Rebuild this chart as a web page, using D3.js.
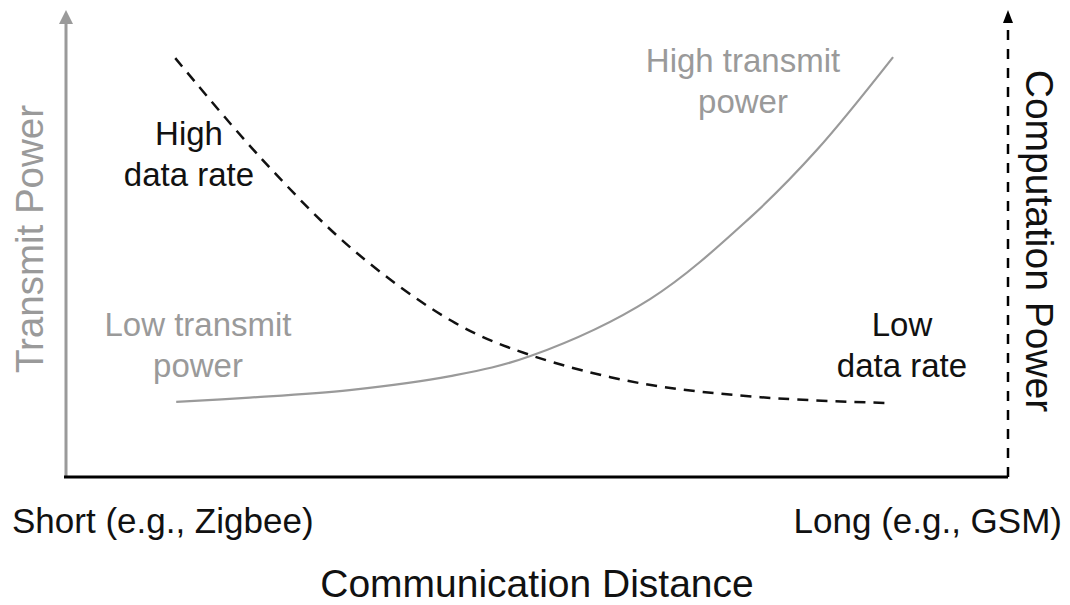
<!DOCTYPE html>
<html>
<head>
<meta charset="utf-8">
<script src="https://cdn.jsdelivr.net/npm/d3@7"></script>
<style>
  body { margin: 0; background: #fff; }
  text { font-family: "Liberation Sans", Arial, sans-serif; }
</style>
</head>
<body>
<div id="chart"></div>
<script>
// Transmit power (gray solid) vs distance, 0..100 scale on both axes
const transmitX = [11.7, 19.5, 30.1, 40.8, 49.3, 62.0, 72.6, 79.7, 87.8];
const transmitY = [16.1, 17.0, 18.6, 21.6, 25.9, 38.1, 55.5, 70.0, 89.9];

// Computation power / data rate (black dashed)
const computeX = [11.6, 20.6, 30.5, 41.3, 49.3, 60.9, 73.7, 87.7];
const computeY = [89.7, 68.5, 48.6, 33.0, 26.1, 20.1, 17.1, 15.8];

const xTickLabels = ["Short (e.g., Zigbee)", "Long (e.g., GSM)"];
const xTitle = "Communication Distance";
const leftTitle = "Transmit Power";
const rightTitle = "Computation Power";

const width = 1070, height = 605;
const svg = d3.select("#chart").append("svg")
    .attr("width", width)
    .attr("height", height);

const x = d3.scaleLinear().domain([0, 100]).range([66, 1008]);
const y = d3.scaleLinear().domain([0, 100]).range([477, 10]);

const gray = "#9a9a9a";

// Axes
svg.append("line")
    .attr("x1", x(0)).attr("x2", x(0))
    .attr("y1", y(0)).attr("y2", y(100) + 12)
    .attr("stroke", gray).attr("stroke-width", 3);
svg.append("path")
    .attr("d", `M${x(0) - 7},${y(100) + 14} L${x(0)},${y(100)} L${x(0) + 7},${y(100) + 14} Z`)
    .attr("fill", gray);

svg.append("line")
    .attr("x1", x(100)).attr("x2", x(100))
    .attr("y1", y(0)).attr("y2", y(100) + 12)
    .attr("stroke", "#000").attr("stroke-width", 2.5)
    .attr("stroke-dasharray", "10,9");
svg.append("path")
    .attr("d", `M${x(100) - 5},${y(100) + 13} L${x(100)},${y(100)} L${x(100) + 5},${y(100) + 13} Z`)
    .attr("fill", "#000");

svg.append("line")
    .attr("x1", x(0) - 2).attr("x2", x(100))
    .attr("y1", y(0)).attr("y2", y(0))
    .attr("stroke", "#000").attr("stroke-width", 3);

// Curves
const line = d3.line()
    .x(d => x(d[0]))
    .y(d => y(d[1]))
    .curve(d3.curveCatmullRom.alpha(0.5));

svg.append("path")
    .datum(d3.zip(transmitX, transmitY))
    .attr("d", line)
    .attr("fill", "none")
    .attr("stroke", gray)
    .attr("stroke-width", 2.2);

svg.append("path")
    .datum(d3.zip(computeX, computeY))
    .attr("d", line)
    .attr("fill", "none")
    .attr("stroke", "#111")
    .attr("stroke-width", 2.5)
    .attr("stroke-dasharray", "11,8");

// Annotations
function label(lines, cx, y0, color) {
    const t = svg.append("text")
        .attr("text-anchor", "middle")
        .attr("fill", color)
        .style("font-size", "33px");
    lines.forEach((s, i) => {
        t.append("tspan").attr("x", cx).attr("y", y0 + i * 41).text(s);
    });
}
label(["High", "data rate"], 189, 145, "#111");
label(["High transmit", "power"], 743, 72, gray);
label(["Low transmit", "power"], 198, 336, gray);
label(["Low", "data rate"], 902, 336, "#111");

// Tick labels and titles
svg.append("text")
    .attr("x", 12).attr("y", 533)
    .attr("fill", "#111")
    .style("font-size", "35px")
    .text(xTickLabels[0]);
svg.append("text")
    .attr("x", 1062).attr("y", 533)
    .attr("text-anchor", "end")
    .attr("fill", "#111")
    .style("font-size", "35px")
    .text(xTickLabels[1]);

svg.append("text")
    .attr("x", 537).attr("y", 597)
    .attr("text-anchor", "middle")
    .attr("fill", "#111")
    .style("font-size", "39px")
    .text(xTitle);

svg.append("text")
    .attr("transform", `translate(43, 239) rotate(-90)`)
    .attr("text-anchor", "middle")
    .attr("fill", gray)
    .style("font-size", "38.5px")
    .text(leftTitle);

svg.append("text")
    .attr("transform", `translate(1026, 241) rotate(90)`)
    .attr("text-anchor", "middle")
    .attr("fill", "#111")
    .style("font-size", "39px")
    .text(rightTitle);
</script>
</body>
</html>
